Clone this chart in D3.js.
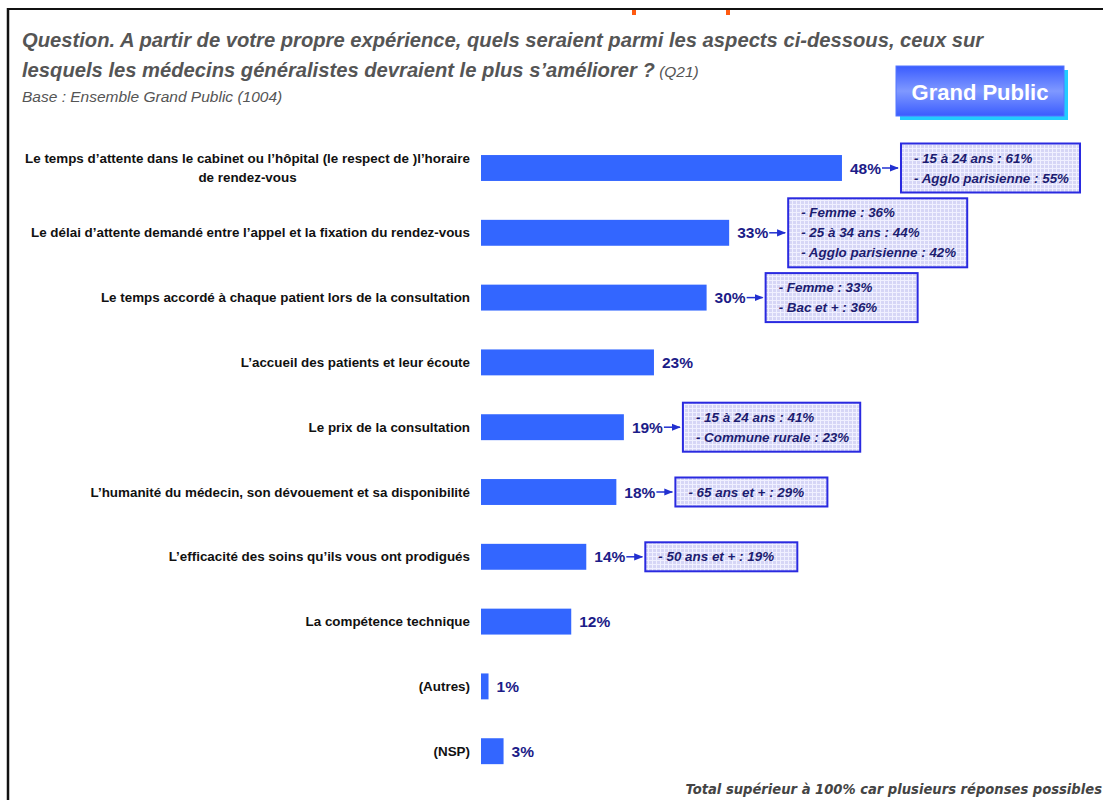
<!DOCTYPE html>
<html><head><meta charset="utf-8">
<script src="https://cdnjs.cloudflare.com/ajax/libs/d3/7.8.5/d3.min.js"></script>
<style>body{margin:0;background:#fff}svg{display:block}</style>
</head><body>
<svg id="c" width="1103" height="800"></svg>
<script>
const categories = [
  ["Le temps d’attente dans le cabinet ou l’hôpital (le respect de )l’horaire", "de rendez-vous"],
  ["Le délai d’attente demandé entre l’appel et la fixation du rendez-vous"],
  ["Le temps accordé à chaque patient lors de la consultation"],
  ["L’accueil des patients et leur écoute"],
  ["Le prix de la consultation"],
  ["L’humanité du médecin, son dévouement et sa disponibilité"],
  ["L’efficacité des soins qu’ils vous ont prodigués"],
  ["La compétence technique"],
  ["(Autres)"],
  ["(NSP)"]
];
const values = [48, 33, 30, 23, 19, 18, 14, 12, 1, 3];
const annotations = [
  ["- 15 à 24 ans : 61%", "- Agglo parisienne : 55%"],
  ["- Femme : 36%", "- 25 à 34 ans : 44%", "- Agglo parisienne : 42%"],
  ["- Femme : 33%", "- Bac et + : 36%"],
  [],
  ["- 15 à 24 ans : 41%", "- Commune rurale : 23%"],
  ["- 65 ans et + : 29%"],
  ["- 50 ans et + : 19%"],
  [], [], []
];
const titleLines = ["Question. A partir de votre propre expérience, quels seraient parmi les aspects ci-dessous, ceux sur",
                    "lesquels les médecins généralistes devraient le plus s’améliorer ?"];
const titleRef = " (Q21)";
const baseText = "Base : Ensemble Grand Public (1004)";
const badgeText = "Grand Public";
const footText = "Total supérieur à 100% car plusieurs réponses possibles";

const svg = d3.select("#c");
const F = "'Liberation Sans', Arial, sans-serif";
const defs = svg.append("defs");
const pat = defs.append("pattern").attr("id","grid").attr("width",4).attr("height",4).attr("patternUnits","userSpaceOnUse");
pat.append("rect").attr("width",4).attr("height",4).attr("fill","#d6d6f6");
pat.append("path").attr("d","M0,0.5H4M0.5,0V4").attr("stroke","#f0f0ff").attr("stroke-width",1);
const grad = defs.append("linearGradient").attr("id","bg").attr("x1",0).attr("y1",0).attr("x2",0).attr("y2",1);
grad.append("stop").attr("offset","0%").attr("stop-color","#3a5cff");
grad.append("stop").attr("offset","50%").attr("stop-color","#7f98ff");
grad.append("stop").attr("offset","100%").attr("stop-color","#3a5cff");
defs.append("marker").attr("id","ar").attr("viewBox","0 0 10 10").attr("refX",9).attr("refY",5)
  .attr("markerWidth",6).attr("markerHeight",6).attr("orient","auto")
  .append("path").attr("d","M0,1L10,5L0,9Z").attr("fill","#2230d0");

// frame
svg.append("line").attr("x1",8).attr("x2",1103).attr("y1",9).attr("y2",9).attr("stroke","#111").attr("stroke-width",2.2);
svg.append("line").attr("x1",8).attr("x2",8).attr("y1",8).attr("y2",800).attr("stroke","#111").attr("stroke-width",2.5);
[634, 728].forEach(x => svg.append("rect").attr("x",x-2).attr("y",10).attr("width",4).attr("height",5).attr("fill","#ff5a10"));

// title
const t = svg.append("g").attr("font-family",F).attr("font-style","italic").attr("fill","#555");
t.append("text").attr("x",22).attr("y",47).attr("font-size",20.2).attr("font-weight","bold").text(titleLines[0]);
const t2 = t.append("text").attr("x",22).attr("y",77).attr("font-size",20.2).attr("font-weight","bold").text(titleLines[1]);
t2.append("tspan").attr("font-weight","normal").attr("font-size",15.5).text(titleRef);
t.append("text").attr("x",22).attr("y",102).attr("font-size",15.5).text(baseText);

// badge
svg.append("rect").attr("x",900).attr("y",70).attr("width",168).attr("height",50).attr("fill","#22ccff");
svg.append("rect").attr("x",896).attr("y",66).attr("width",168).attr("height",50).attr("fill","url(#bg)").attr("stroke","#5577ff");
svg.append("text").attr("x",980).attr("y",100).attr("text-anchor","middle").attr("font-family",F)
  .attr("font-weight","bold").attr("font-size",22).attr("fill","#fff").text(badgeText);

// scales
const idx = d3.range(values.length);
const y = d3.scaleBand().domain(idx).range([135.6, 783.6]).paddingInner(0.6).paddingOuter(0.3);
const x = d3.scaleLinear().domain([0, 100]).range([481, 481 + 752]);

// labels
const lab = svg.append("g").attr("font-family",F).attr("font-weight","bold").attr("font-size",13.4).attr("fill","#111");
idx.forEach(i => {
  const lines = categories[i];
  const cy = y(i) + y.bandwidth()/2;
  const lh = 19;
  const y0 = cy - (lines.length-1)*lh/2 + 4.5;
  const first = lab.append("text").attr("x",470).attr("y",y0).attr("text-anchor","end").text(lines[0]);
  if (lines.length > 1) {
    const w = first.node().getComputedTextLength();
    const mid = 470 - w/2;
    lines.slice(1).forEach((l,k) => lab.append("text").attr("x",mid).attr("y",y0+(k+1)*lh).attr("text-anchor","middle").text(l));
  }
});

// bars
svg.append("g").selectAll("rect").data(idx).join("rect")
  .attr("x", x(0)).attr("y", i => y(i)).attr("height", y.bandwidth())
  .attr("width", i => x(values[i]) - x(0)).attr("fill","#3366ff");

// value labels + annotations
const vl = svg.append("g");
idx.forEach(i => {
  const cy = y(i) + y.bandwidth()/2;
  const tx = vl.append("text").attr("x", x(values[i]) + 8).attr("y", cy + 5.5)
    .attr("font-family",F).attr("font-weight","bold").attr("font-size",15.5).attr("fill","#1c1c88")
    .text(values[i] + "%");
  const ann = annotations[i];
  if (!ann.length) return;
  const tEnd = x(values[i]) + 8 + tx.node().getComputedTextLength();
  const bx = tEnd + 20;
  vl.append("line").attr("x1", tEnd + 1).attr("x2", bx - 3).attr("y1", cy).attr("y2", cy)
    .attr("stroke","#2230d0").attr("stroke-width",1.5).attr("marker-end","url(#ar)");
  const g = vl.append("g");
  const bh = ann.length * 20 + 9;
  const rect = g.append("rect").attr("x", bx).attr("y", cy - bh/2).attr("height", bh)
    .attr("fill","url(#grid)").attr("stroke","#2a2ae0").attr("stroke-width",2);
  let maxW = 0;
  ann.forEach((a,k) => {
    const tt = g.append("text").attr("x", bx + 13).attr("y", cy - bh/2 + 19 + k*20)
      .attr("font-family",F).attr("font-weight","bold").attr("font-style","italic").attr("font-size",13.4)
      .attr("fill","#1c1c70").text(a);
    maxW = Math.max(maxW, tt.node().getComputedTextLength());
  });
  rect.attr("width", Math.max(152, maxW + 24));
});

// footer
svg.append("text").attr("x",1102).attr("y",794).attr("text-anchor","end").attr("font-family","'DejaVu Sans Condensed','DejaVu Sans',sans-serif")
  .attr("font-weight","bold").attr("font-style","italic").attr("font-size",14.6).attr("fill","#444").text(footText);
</script>
</body></html>
